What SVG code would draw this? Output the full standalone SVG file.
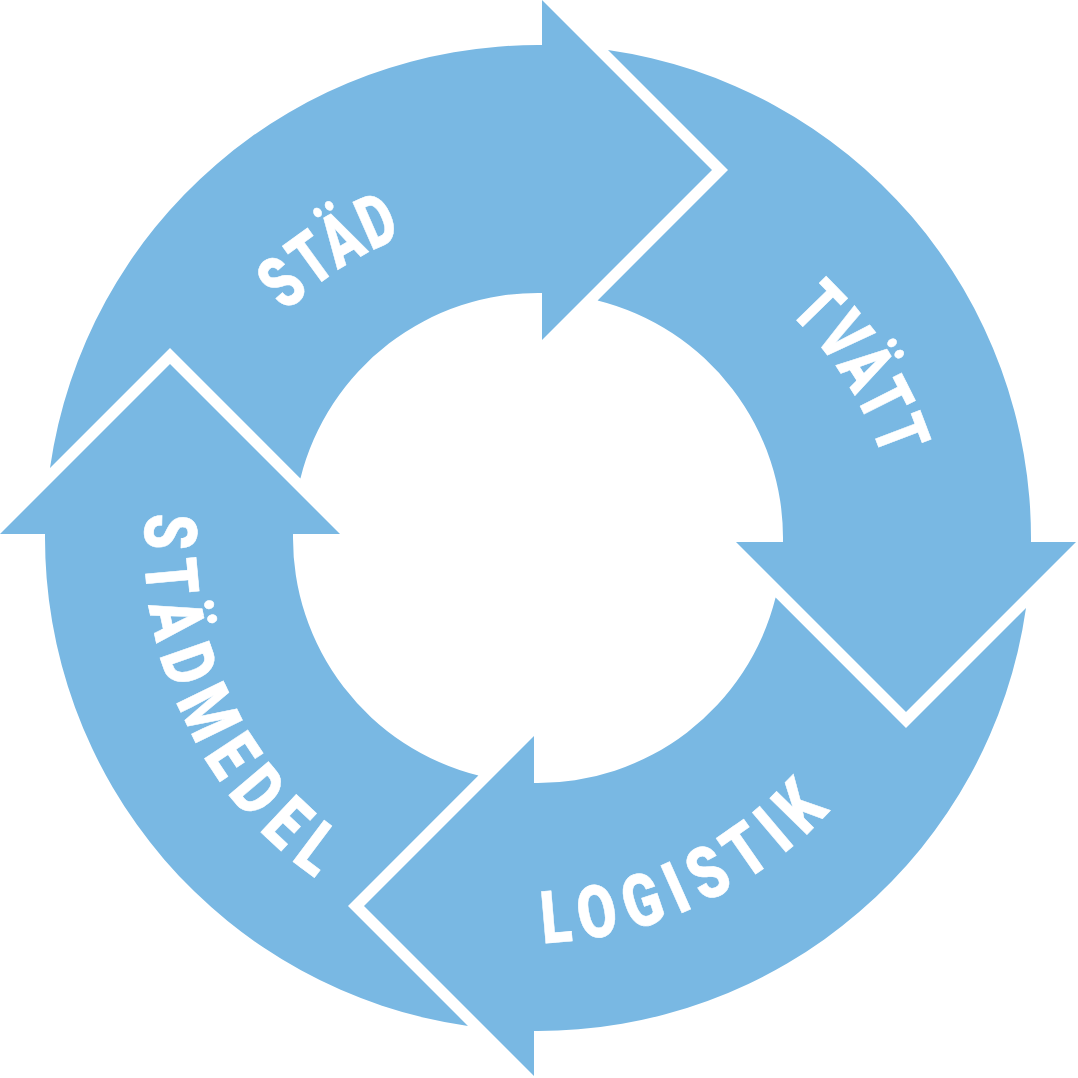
<svg xmlns="http://www.w3.org/2000/svg" xmlns:xlink="http://www.w3.org/1999/xlink" width="1078" height="1078" viewBox="0 0 1078 1078">
<style>
.seg{fill:#79B8E3}
.lbl{font-family:Roboto,"Liberation Sans",sans-serif;font-weight:900;font-size:73px;fill:#ffffff;stroke:#ffffff;stroke-width:0.6;text-anchor:middle}
</style>
<defs>
<path id="seg" d="M50,468 A493,493 0 0 1 542,45.02 L542,0 L712,170 L542,340 L542,293.03 A245,245 0 0 0 300.4,478.4 L170,348 Z"/>
<path id="p-stad" d="M702.5,831.3 A334.5,334.5 0 1 1 341.1,268.3 A334.5,334.5 0 1 1 702.5,831.3"/>
<path id="p-tvatt" d="M260.9,753.9 A346.7,346.7 0 1 1 845.3,380.7 A346.7,346.7 0 1 1 260.9,753.9"/>
<path id="p-logistik" d="M358.9,178.8 A401.1,401.1 0 1 0 704.3,902.8 A401.1,401.1 0 1 0 358.9,178.8"/>
<path id="p-stadmedel" d="M903.2,377.8 A398,398 0 1 0 186,723 A398,398 0 1 0 903.2,377.8"/>
</defs>
<rect width="1078" height="1078" fill="#ffffff"/>
<g id="node-stad">
<use href="#seg" class="seg"/>
<text class="lbl" letter-spacing="3"><textPath href="#p-stad" startOffset="50%" textLength="141.8" lengthAdjust="spacingAndGlyphs">STÄD</textPath></text>
</g>
<g id="node-tvatt">
<use href="#seg" class="seg" transform="rotate(90 538 538)"/>
<text class="lbl" letter-spacing="4"><textPath href="#p-tvatt" startOffset="50%" textLength="179.4" lengthAdjust="spacingAndGlyphs">TVÄTT</textPath></text>
</g>
<g id="node-logistik">
<use href="#seg" class="seg" transform="rotate(180 538 538)"/>
<text class="lbl" letter-spacing="14"><textPath href="#p-logistik" startOffset="50%" textLength="335.5" lengthAdjust="spacingAndGlyphs">LOGISTIK</textPath></text>
</g>
<g id="node-stadmedel">
<use href="#seg" class="seg" transform="rotate(270 538 538)"/>
<text class="lbl" letter-spacing="15"><textPath href="#p-stadmedel" startOffset="50%" textLength="432" lengthAdjust="spacingAndGlyphs">STÄDMEDEL</textPath></text>
</g>
<g id="connectors"/>
</svg>
